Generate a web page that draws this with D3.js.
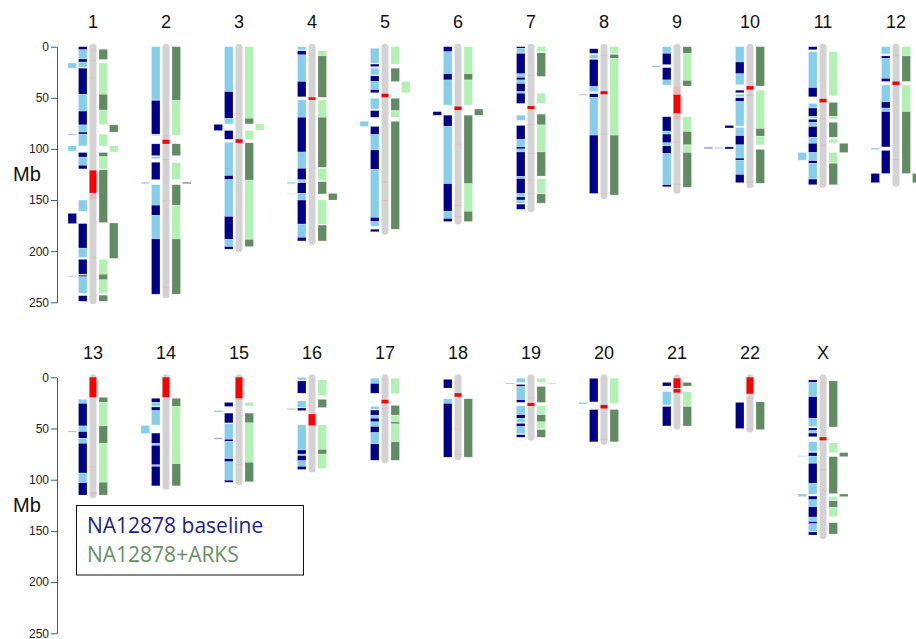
<!DOCTYPE html>
<html>
<head>
<meta charset="utf-8">
<script src="https://cdn.jsdelivr.net/npm/d3@7"></script>
<style>
  body { margin: 0; background: #fff; }
  svg { display: block; }
</style>
</head>
<body>
<svg id="chart" width="916" height="639"></svg>
<script>
// Chromosomes, lengths (Mb) and centromere / heterochromatin bands
const chromNames = ["1","2","3","4","5","6","7","8","9","10","11","12",
                    "13","14","15","16","17","18","19","20","21","22","X"];
const chromLengths = [249,243,198,191,181,171,159,146,141,135.5,135,134,
                      115,107,102.5,90,81,78,59,63,48,51,155];
const redBands = [
  ["1",121,143],["2",91,95],["3",90.5,94],["4",49.5,52],["5",46,49.5],["6",58.5,62],
  ["7",58,61],["8",43.5,46.5],["9",47,65],["10",38.5,42],["11",51,54.5],["12",34,37.5],
  ["13",0,19.5],["14",0,19.5],["15",0,20.5],["16",36,47],["17",22,25.5],["18",15.5,19],
  ["19",25,28],["20",27,30.5],["21",1,10.5],["21",11.5,15],["22",0,16],["X",58.5,61.5]
];
// faint assembly gaps along the ideograms [chrom, start, end]
const gapMarks = [
  ["1",3,3.6],["1",13,13.6],["1",30,30.6],["1",144,149],["1",206,206.8],
  ["2",87,87.6],["2",110,110.6],["2",150,150.6],["2",235,235.6],
  ["3",65,65.6],["4",8,8.6],["5",132,132.6],["5",150,150.6],
  ["6",95,95.6],["6",155,155.6],["6",166,166.6],
  ["7",28,28.6],["7",76,76.6],["7",104,104.6],["7",130,130.6],["7",143,143.6],
  ["8",8,8.6],["8",85,85.6],["8",143,143.6],
  ["9",39,47],["9",65,71],["9",93,93.6],["9",134,134.6],
  ["10",47,48],["10",132,132.6],["11",70,70.6],["11",96,96.6],["12",8,8.6],["12",110,110.6],
  ["13",87,87.6],["13",112,114],["15",20.5,22],["15",85,85.6],
  ["17",2,2.6],["17",30,30.6],["18",50,50.6],["18",75,75.6],["19",20,20.6],
  ["20",60,60.6],["22",20,20.6],["22",50,50.6],["X",5,5.6],["X",90,90.6],["X",110,110.6]
];

// Scaffold blocks: [chrom, start Mb, end Mb, shade (L light / D dark / F faint / P pale), column]
const baselineSegs = [
  ["1",0,3,"D"],["1",3,12,"L"],["1",12,15,"D"],["1",15,20,"L"],["1",21,46.5,"D"],["1",46.5,63,"L"],
  ["1",63,76.5,"D"],["1",76.5,83.5,"L"],["1",83.5,85.5,"D"],["1",85.5,97,"L"],["1",103.5,108,"D"],
  ["1",108,116,"L"],["1",116,119.5,"D"],["1",150,161,"L"],["1",173,197,"D"],["1",197,206,"L"],
  ["1",208,222.5,"D"],["1",223.5,225,"D"],["1",225,241,"L"],["1",243.5,249,"D"],
  ["1",16,21,"L",1],["1",85.5,86.5,"F",1],["1",97,102,"L",1],["1",163,173,"D",1],["1",224,225,"L",1],
  ["2",0,52,"L"],["2",52.5,85.5,"D"],["2",86,87,"L"],["2",95,106.5,"D"],["2",107.5,109.5,"L"],
  ["2",113,130,"D"],["2",135,155,"L"],["2",155,165,"D"],["2",165,188,"L"],["2",188,242,"D"],
  ["2",132.5,134,"L",1],
  ["3",0,44,"L"],["3",44,70,"D"],["3",70,75.5,"L"],["3",82,90.5,"D"],["3",93.5,126,"L"],["3",126,130,"D"],
  ["3",130,166,"L"],["3",166,188.5,"D"],["3",188.5,195.5,"L"],["3",195.5,198,"D"],
  ["3",76,82,"D",1],
  ["4",0,3,"L"],["4",4,8,"D"],["4",8,34,"L"],["4",34,49,"D"],["4",52,69,"L"],["4",69,103,"D"],
  ["4",103,119,"L"],["4",119,130,"D"],["4",130.5,132.5,"L"],["4",133,143.5,"D"],["4",143.5,150,"L"],
  ["4",150,173.5,"D"],["4",173.5,186.5,"L"],["4",186.5,190,"D"],
  ["4",132.5,134,"L",1],["4",143.5,144.5,"P",1],
  ["5",1.5,16,"L"],["5",17,19.5,"D"],["5",21,27.5,"L"],["5",28.5,34,"D"],["5",34,42,"L"],["5",42,45,"D"],
  ["5",50.5,61,"L"],["5",62.5,69,"D"],["5",78,86,"D"],["5",86,101,"L"],["5",101,120,"D"],
  ["5",120,167,"L"],["5",167,171,"D"],["5",171,175.5,"L"],["5",178.5,181,"D"],
  ["5",73,78,"L",1],
  ["6",0,5,"D"],["6",5,26.5,"L"],["6",26.5,32.5,"D"],["6",32.5,57,"L"],["6",67,78,"D"],["6",78,134,"L"],
  ["6",134,161,"D"],["6",161,168,"L"],["6",168,171,"D"],
  ["6",63.5,67,"D",1],
  ["7",0,1.5,"D"],["7",1.5,6,"L"],["7",6.5,26.5,"D"],["7",26.5,30,"L"],["7",30,32.5,"D"],["7",32.5,36,"L"],
  ["7",36,44,"D"],["7",44,45.5,"L"],["7",45.5,55.5,"D"],["7",67,72,"L"],["7",77,90.5,"D"],["7",90.5,98,"L"],
  ["7",98,100,"D"],["7",100,103,"L"],["7",103,127,"D"],["7",127,129,"L"],["7",129,143.5,"D"],
  ["7",143.5,147,"L"],["7",147,150,"D"],["7",150,153,"L"],["7",154,159,"D"],
  ["8",2,6.5,"D"],["8",8,11.5,"L"],["8",12.5,39,"D"],["8",39,44,"L"],["8",46,49.5,"D"],["8",49.5,86.5,"L"],
  ["8",86.5,143.5,"D"],
  ["8",46.5,47.5,"F",1],
  ["9",0,6.5,"L"],["9",6.5,17.5,"D"],["9",20.5,32.5,"D"],["9",32.5,37.5,"L"],["9",68.5,82.5,"D"],["9",82.5,85.5,"L"],
  ["9",85.5,94,"D"],["9",94,97,"L"],["9",97,104.5,"D"],["9",104.5,135,"L"],["9",135,137,"D"],
  ["9",18.5,20,"L",1],
  ["10",0,15,"L"],["10",15,26.5,"D"],["10",26.5,37,"L"],["10",42.5,45,"D"],["10",46.5,49,"L"],
  ["10",50,53.5,"D"],["10",53.5,77.5,"L"],["10",79,87,"L"],["10",87,96,"D"],["10",96,109,"L"],
  ["10",109,111,"D"],["10",111,125,"L"],["10",125,133,"D"],
  ["10",77,79.5,"D",1],["10",98,100,"D",1],["10",98,100,"P",2],["10",98,100,"F",3],
  ["11",0,3,"D"],["11",5,40,"L"],["11",40,49,"D"],["11",55.5,60,"L"],["11",60,68,"D"],["11",68,70,"L"],
  ["11",71,74,"D"],["11",74,77.5,"L"],["11",78,88.5,"D"],["11",88.5,94.5,"L"],["11",94.5,103.5,"D"],
  ["11",103.5,111.5,"L"],["11",111.5,114,"D"],["11",114,129.5,"L"],["11",129.5,135,"D"],
  ["11",103.5,111,"L",1],
  ["12",0,7,"L"],["12",9,11.5,"D"],["12",11.5,31,"L"],["12",31,34,"D"],["12",37.5,54,"L"],["12",54,60,"D"],
  ["12",60,63.5,"L"],["12",63.5,98,"D"],["12",101.5,124,"D"],
  ["12",99,100.5,"L",1],["12",124,133,"D",1],
  ["13",21.5,25.5,"L"],["13",25.5,47.5,"D"],["13",47.5,53,"L"],["13",53,59.5,"D"],["13",59.5,64.5,"L"],
  ["13",64.5,93.5,"D"],["13",93.5,103,"L"],["13",103,115,"D"],
  ["13",52.5,53.5,"F",1],
  ["14",20.5,24.5,"D"],["14",24.5,28.5,"L"],["14",29,32.5,"D"],["14",32.5,46.5,"L"],["14",54.5,64.5,"D"],
  ["14",64.5,66.5,"L"],["14",66.5,85.5,"D"],["14",85.5,87,"L"],["14",87,106,"D"],
  ["14",47,55,"L",1],
  ["15",24.5,28.5,"D"],["15",35,44.5,"D"],["15",45.5,60.5,"L"],["15",60.5,62.5,"D"],
  ["15",62.5,79.5,"L"],["15",79.5,82.5,"D"],["15",82.5,100.5,"L"],["15",100.5,102.5,"D"],
  ["15",32.5,34,"L",1],["15",59,60.5,"F",1],
  ["16",0,2.5,"L"],["16",3.5,15.5,"D"],["16",23,29.5,"L"],["16",30,32.5,"D"],["16",46.5,71,"L"],
  ["16",71,75,"D"],["16",75,76.5,"L"],["16",76.5,81.5,"D"],["16",81.5,87,"L"],["16",87,90,"D"],
  ["16",30.5,31.5,"F",1],
  ["17",1,6,"L"],["17",6,15.5,"D"],["17",28.5,31,"L"],["17",32,37,"D"],["17",37,40,"L"],["17",40,43.5,"D"],
  ["17",43.5,48,"L"],["17",48,54,"D"],["17",54,65,"L"],["17",65,81,"D"],
  ["18",2,10.5,"D"],["18",21,25.5,"L"],["18",25.5,78,"D"],
  ["19",1,5,"L"],["19",7,9,"D"],["19",9,22,"L"],["19",22,24.5,"D"],["19",28,36,"L"],["19",36.5,40,"D"],
  ["19",40,44,"L"],["19",45,48,"D"],["19",48,55,"L"],["19",56,58.5,"D"],
  ["19",5.5,6.5,"L",1],
  ["20",1,24,"D"],["20",31.5,63,"D"],
  ["20",24.5,26,"L",1],
  ["21",5,8.5,"D"],["21",14,27,"L"],["21",28.5,47.5,"D"],
  ["22",24.5,50,"D"],
  ["X",2.5,5,"D"],["X",5,19,"L"],["X",19,40,"D"],["X",40,48,"L"],["X",49.5,52,"D"],["X",52,54.5,"L"],
  ["X",54.5,58,"D"],["X",63,72.5,"L"],["X",73.5,77,"D"],["X",77,84,"L"],["X",84,103.5,"D"],
  ["X",103.5,114,"L"],["X",116,119.5,"D"],["X",119.5,126.5,"L"],["X",126.5,136.5,"D"],["X",136.5,141,"L"],
  ["X",141,143,"D"],["X",143,150.5,"L"],["X",151,154,"D"],
  ["X",76.5,77.5,"P",1],["X",114,116.5,"L",1]
];

const arksSegs = [
  ["1",2.5,12.5,"D"],["1",16,46.5,"L"],["1",46.5,62,"D"],["1",62,76,"L"],["1",85.5,97,"L"],
  ["1",103.5,107.5,"D"],["1",107.5,119.5,"L"],["1",120.5,172,"D"],["1",208,222.5,"L"],
  ["1",222.5,228,"D"],["1",228,241,"L"],["1",243,249,"D"],
  ["1",76.5,83.5,"D",1],["1",97,103,"L",1],["1",172.5,207,"D",1],
  ["2",0,52.5,"D"],["2",52.5,86.5,"L"],["2",95,106.5,"D"],["2",113.5,130,"L"],["2",135,155,"D"],
  ["2",155,188,"L"],["2",188,242,"D"],
  ["2",132.5,134,"D",1],
  ["3",0,70,"L"],["3",70,75.5,"D"],["3",82,90.5,"L"],["3",94,130.5,"D"],["3",130.5,188.5,"L"],
  ["3",188.5,195.5,"D"],
  ["3",75.5,81.5,"L",1],
  ["4",4,9,"L"],["4",9,49.5,"D"],["4",52,69,"L"],["4",69,118,"D"],["4",119,131,"L"],["4",132,144,"D"],
  ["4",150,173.5,"L"],["4",174.5,190,"D"],
  ["4",143.5,150,"D",1],
  ["5",0,17,"L"],["5",21,34,"D"],["5",50.5,62.5,"D"],["5",62.5,69,"L"],["5",73,178.5,"D"],
  ["5",34,45,"L",1],
  ["6",0,26.5,"L"],["6",26.5,32.5,"D"],["6",32.5,57,"L"],["6",67,134,"D"],["6",134,161,"L"],["6",161,171,"D"],
  ["6",61,67,"D",1],
  ["7",0,5,"L"],["7",6,29,"D"],["7",45.5,55.5,"L"],["7",66,76.5,"D"],["7",76.5,103,"L"],
  ["7",103,126.5,"D"],["7",129,143.5,"L"],["7",144,153,"D"],
  ["8",0,6.5,"L"],["8",7.5,11.5,"D"],["8",11.5,86.5,"L"],["8",86.5,145,"D"],
  ["9",0,6.5,"D"],["9",6.5,33,"L"],["9",33,38.5,"D"],["9",68.5,83,"L"],["9",83,96,"D"],
  ["9",96,103.5,"L"],["9",103.5,137.5,"D"],
  ["10",0,38.5,"D"],["10",42.5,80,"L"],["10",80,87.5,"D"],["10",87.5,96,"L"],["10",100.5,133.5,"D"],
  ["11",5,48,"L"],["11",54.5,68,"D"],["11",68,71,"L"],["11",74,88.5,"D"],["11",90.5,94,"L"],
  ["11",103.5,113.5,"L"],["11",114,135,"D"],
  ["11",94.5,103.5,"D",1],
  ["12",0,9,"L"],["12",9,34,"D"],["12",37.5,63.5,"L"],["12",63.5,124,"D"],
  ["12",124,133,"D",1],
  ["13",19.5,24.5,"D"],["13",24.5,47.5,"L"],["13",47.5,64.5,"D"],["13",64.5,102.5,"L"],["13",102.5,115,"D"],
  ["14",20.5,28.5,"D"],["14",28.5,84.5,"L"],["14",84.5,106,"D"],
  ["15",24.5,28,"L"],["15",35,44.5,"D"],["15",44.5,83,"L"],["15",83,102,"D"],
  ["16",2.5,18,"L"],["16",21.5,29.5,"D"],["16",46.5,70.5,"L"],["16",70.5,75,"D"],["16",75,89,"L"],
  ["17",1,16,"L"],["17",27.5,37,"D"],["17",37,43.5,"L"],["17",43.5,45.5,"D"],["17",45.5,63,"L"],["17",63,81,"D"],
  ["18",21,78,"D"],
  ["19",1,5,"L"],["19",9,24.5,"D"],["19",28,36,"L"],["19",36.5,43.5,"D"],["19",43.5,50,"L"],["19",51,58.5,"D"],
  ["19",5.5,6.5,"L",1],
  ["20",1,25.5,"L"],["20",31.5,63,"D"],
  ["21",5,8.5,"D"],["21",14,28,"L"],["21",28.5,47.5,"D"],
  ["22",24,51,"D"],
  ["X",3.5,48.5,"D"],["X",64,73.5,"L"],["X",77.5,113.5,"D"],["X",116.5,120,"L"],["X",120.5,127,"D"],
  ["X",127,136,"L"],["X",142,153,"D"],
  ["X",73.5,77.5,"D",1],["X",114,116.5,"D",1]
];

const axisTicks = [0, 50, 100, 150, 200, 250];
const legendLabels = ["NA12878 baseline", "NA12878+ARKS"];

// ---- layout ----
const svg = d3.select("#chart");
const perRow = 12;
const colX = d3.scaleLinear().domain([0, 11]).range([93, 896]);
const rowY = [
  d3.scaleLinear().domain([0, 250]).range([46.7, 302.3]),
  d3.scaleLinear().domain([0, 250]).range([377.3, 633.3])
];
const chromIndex = new Map(chromNames.map((c, i) => [c, i]));
function place(c) {
  const i = chromIndex.get(c);
  const row = i < perRow ? 0 : 1;
  return { x: colX(row ? i - perRow : i), y: rowY[row] };
}

const barW = 7, blockW = 8.5, colStep = 10.5;
const shades = {
  base: { L: "#87ceeb", D: "#000086", F: "#aaaae6", P: "#c4e6f4" },
  arks: { L: "#b3f0b3", D: "#618b62", F: "#c4e8c4", P: "#d6f4d6" }
};

// axes and Mb labels
rowY.forEach((y, r) => {
  const g = svg.append("g")
    .attr("transform", `translate(57,0)`)
    .call(d3.axisLeft(y).tickValues(axisTicks).tickSize(6).tickSizeOuter(0).tickPadding(2));
  g.select(".domain").attr("stroke", "#555");
  g.selectAll(".tick line").attr("stroke", "#555");
  g.selectAll(".tick text").attr("fill", "#222")
    .style("font", "12px 'Liberation Sans', Arial, sans-serif");
  svg.append("text")
    .attr("x", 27).attr("y", r === 0 ? 181 : 512)
    .attr("text-anchor", "middle")
    .attr("fill", "#111")
    .style("font", "20px 'Liberation Sans', Arial, sans-serif")
    .text("Mb");
});

// chromosome ideograms
const chroms = chromNames.map((c, i) => ({ name: c, len: chromLengths[i], ...place(c) }));
const cg = svg.append("g");
cg.selectAll("text.chr").data(chroms).join("text")
  .attr("class", "chr")
  .attr("x", d => d.x).attr("y", d => d.y(0) - 18.3)
  .attr("text-anchor", "middle")
  .attr("fill", "#111")
  .style("font", "18px 'Liberation Sans', Arial, sans-serif")
  .text(d => d.name);

cg.selectAll("rect.body").data(chroms).join("rect")
  .attr("class", "body")
  .attr("x", d => d.x - barW / 2)
  .attr("y", d => d.y(0) - 3)
  .attr("width", barW)
  .attr("height", d => d.y(d.len) - d.y(0) + 6)
  .attr("rx", barW / 2)
  .attr("fill", "#d3d3d3");

cg.selectAll("rect.gap").data(gapMarks).join("rect")
  .attr("class", "gap")
  .attr("x", d => place(d[0]).x - barW / 2)
  .attr("y", d => place(d[0]).y(d[1]))
  .attr("width", barW)
  .attr("height", d => Math.max(0.8, place(d[0]).y(d[2]) - place(d[0]).y(d[1])))
  .attr("fill", "#f2a5a5")
  .attr("opacity", 0.55);

cg.selectAll("rect.cen").data(redBands).join("rect")
  .attr("class", "cen")
  .attr("x", d => place(d[0]).x - barW / 2)
  .attr("y", d => place(d[0]).y(d[1]))
  .attr("width", barW)
  .attr("height", d => place(d[0]).y(d[2]) - place(d[0]).y(d[1]))
  .attr("fill", "#ff0000");

// scaffold blocks, baseline to the left, ARKS to the right
function drawBlocks(data, side, pal) {
  cg.append("g").selectAll("rect").data(data).join("rect")
    .attr("x", d => {
      const k = d[4] || 0;
      const cx = place(d[0]).x + side * (10.25 + colStep * k);
      return cx - blockW / 2;
    })
    .attr("y", d => place(d[0]).y(d[1]))
    .attr("width", blockW)
    .attr("height", d => Math.max(1, place(d[0]).y(d[2]) - place(d[0]).y(d[1])))
    .attr("fill", d => pal[d[3]])
    .attr("stroke", "#ffffff")
    .attr("stroke-opacity", 0.45)
    .attr("stroke-width", 0.5);
}
drawBlocks(baselineSegs, -1, shades.base);
drawBlocks(arksSegs, 1, shades.arks);

// legend
const lg = svg.append("g");
lg.append("rect")
  .attr("x", 76.5).attr("y", 505.5).attr("width", 227).attr("height", 69.5)
  .attr("fill", "#fff").attr("stroke", "#111").attr("stroke-width", 1);
lg.selectAll("text").data(legendLabels).join("text")
  .attr("x", 87).attr("y", (d, i) => 533 + i * 28.5)
  .attr("fill", (d, i) => i === 0 ? "#1e1e8e" : "#689068")
  .style("font", "21px 'Open Sans', sans-serif")
  .text(d => d);
</script>
</body>
</html>
